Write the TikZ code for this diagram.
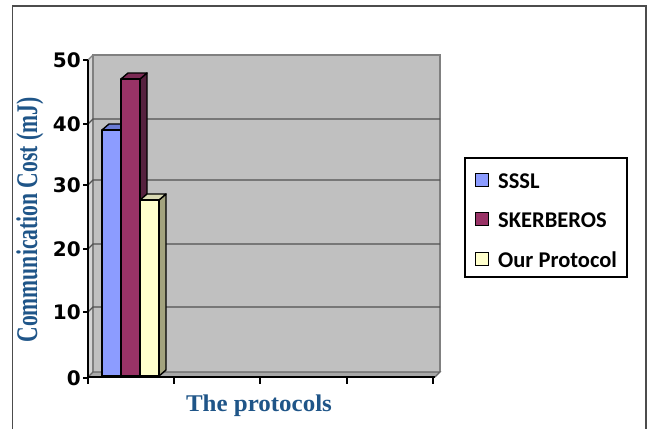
\documentclass[tikz,border=0pt]{standalone}
\usepackage{fontspec}
\setmainfont{Liberation Serif}
\newfontfamily\numfont{DejaVu Sans}
\newfontfamily\legfont{Carlito}
\usetikzlibrary{calc}
\definecolor{wallgray}{HTML}{C0C0C0}
\definecolor{sidegray}{HTML}{D4D4D4}
\definecolor{floorgray}{HTML}{A8A8A8}
\definecolor{gridgray}{HTML}{505050}
\definecolor{titleblue}{HTML}{1F5588}
\definecolor{cBlue}{HTML}{8C9CFF}
\definecolor{cBlueTop}{HTML}{6B7CD6}
\definecolor{cRed}{HTML}{993366}
\definecolor{cRedSide}{HTML}{56213F}
\definecolor{cRedTop}{HTML}{7B2A54}
\definecolor{cYel}{HTML}{FFFFCC}
\definecolor{cYelSide}{HTML}{A3A37E}
\definecolor{cYelTop}{HTML}{D9D9B3}
\tikzset{
  barline/.style={draw=black,line width=1.4pt,line join=round},
  gridline/.style={draw=gridgray,line width=1.2pt},
  axisline/.style={draw=black,line width=1.3pt},
  ylab/.style={anchor=east,font=\numfont\bfseries\fontsize{20}{20}\selectfont,inner sep=0pt},
  legtext/.style={anchor=west,font=\legfont\bfseries\fontsize{22.5}{22.5}\selectfont,inner sep=0pt},
  legmark/.style={draw=black,line width=1pt,minimum size=13.5pt,inner sep=0pt},
}
% one 3-D bar: front rectangle, right side and top; #1 left x, #2 right x, #3 top y, #4 colours
\newcommand{\bardraw}[6]{%
  \fill[#5] (#2,376) -- (#2+7,370) -- (#2+7,#3-6) -- (#2,#3) -- cycle;
  \draw[barline] (#2,376) -- (#2+7,370) -- (#2+7,#3-6) -- (#2,#3);
  \fill[#6] (#1,#3) -- (#1+7,#3-6) -- (#2+7,#3-6) -- (#2,#3) -- cycle;
  \draw[barline] (#1,#3) -- (#1+7,#3-6) -- (#2+7,#3-6) -- (#2,#3);
  \filldraw[#4,barline] (#1,376) rectangle (#2,#3);
}
\begin{document}
\begin{tikzpicture}[x=1pt,y=-1pt]
\useasboundingbox (0,0) rectangle (648,429);
\fill[white] (0,0) rectangle (648,429);
% outer frame (open at the bottom)
\draw[draw=black!70,line width=1.6pt] (12.5,429) -- (12.5,6) -- (646,6) -- (646,429);
% walls and floor
\fill[wallgray] (93,55) rectangle (440,372);
\fill[sidegray] (88,60) -- (93,55) -- (93,372) -- (88,377) -- cycle;
\fill[floorgray] (88,377) -- (93,372) -- (440,372) -- (435,377) -- cycle;
\draw[draw=black!50,line width=1.4pt] (93,372) -- (93,55) -- (440,55) -- (440,372);
\draw[draw=black!60,line width=1.2pt] (88,377) -- (93,372) -- (440,372) -- (435,377);
% gridlines
\foreach \yy in {124,185,249,312}{
  \draw[gridline] (88,\yy) -- (93,\yy-5) -- (440,\yy-5);
}
\draw[draw=black!50,line width=1.2pt] (88,60) -- (93,55);
% bars
\bardraw{102}{121}{130}{fill=cBlue}{cBlue}{cBlueTop}
\bardraw{121}{140}{79}{fill=cRed}{cRedSide}{cRedTop}
\bardraw{140}{159}{200}{fill=cYel}{cYelSide}{cYelTop}
% axes
\draw[axisline] (88,60) -- (88,378);
\draw[axisline] (87,377) -- (435,377);
\foreach \yy/\lab in {60/50,124/40,185/30,249/20,312/10,378/0}{
  \draw[axisline] (83,\yy) -- (88,\yy);
  \node[ylab] (yl\lab) at (81,\yy) {\lab};
}
\foreach \xx in {88,174,260,347,433}{
  \draw[axisline] (\xx,377) -- (\xx,384);
}
% axis titles
\node[rotate=90,text=titleblue,font=\bfseries\fontsize{30}{30}\selectfont,inner sep=0pt] (ytitle) at (30,220)
  {\scalebox{0.72}[1]{Communication Cost (mJ)}};
\node[text=titleblue,font=\bfseries\fontsize{24}{24}\selectfont,inner sep=0pt] (xtitle) at (259,406)
  {\scalebox{1.04}[1]{The protocols}};
% legend
\draw[draw=black,line width=1.2pt] (465,158) rectangle (627,277);
\node[legmark,fill=cBlue] (m1) at (482,180) {};
\node[legmark,fill=cRed] (m2) at (482,219) {};
\node[legmark,fill=cYel] (m3) at (482,259) {};
\node[legtext] (t1) at (498,181) {SSSL};
\node[legtext] (t2) at (498,220) {SKERBEROS};
\node[legtext] (t3) at (498,260) {Our Protocol};
\end{tikzpicture}
\end{document}
